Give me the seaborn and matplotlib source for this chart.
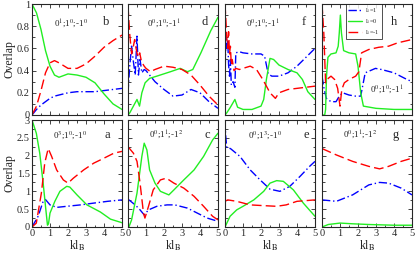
import numpy as np
import pandas as pd
import matplotlib
matplotlib.use("Agg")
import matplotlib.pyplot as plt
import seaborn as sns
from matplotlib.ticker import MultipleLocator

sns.set_style("ticks")
plt.rcParams["font.family"] = ["Liberation Serif", "DejaVu Serif"]
plt.rcParams["mathtext.fontset"] = "stix"

# ----------------------------------------------------------
# data (x = kl_B)
# ----------------------------------------------------------
# panel b
b_x = [0, 0.25, 0.5, 0.75, 1.0, 1.25, 1.5, 2.0, 2.5, 3.0, 3.5, 4.0, 4.5, 5.0]
b_green = [1.0, 0.92, 0.77, 0.58, 0.44, 0.36, 0.34, 0.37, 0.36, 0.34, 0.29, 0.19, 0.1, 0.05]
b_red = [0, 0.08, 0.22, 0.38, 0.47, 0.49, 0.47, 0.42, 0.42, 0.46, 0.53, 0.61, 0.67, 0.72]
b_blue = [0, 0.05, 0.09, 0.12, 0.15, 0.17, 0.18, 0.2, 0.21, 0.21, 0.21, 0.22, 0.23, 0.24]

# panel d
d_red_x = [0, 0.1, 0.2, 0.3, 0.37, 0.45, 0.55, 0.65, 0.75, 0.9, 1.0, 1.25, 1.5, 2.0, 2.5, 3.0, 3.5, 4.0, 4.5, 5.0]
d_red = [0.98, 0.72, 0.55, 0.62, 0.68, 0.6, 0.52, 0.56, 0.48, 0.44, 0.42, 0.39, 0.41, 0.44, 0.43, 0.41, 0.36, 0.27, 0.17, 0.09]
d_blue_x = [0, 0.1, 0.2, 0.3, 0.4, 0.5, 0.58, 0.67, 0.77, 0.9, 1.0, 1.25, 1.5, 2.0, 2.5, 3.0, 3.5, 4.0, 4.5, 5.0]
d_blue = [0.2, 0.45, 0.62, 0.48, 0.36, 0.71, 0.36, 0.5, 0.38, 0.41, 0.4, 0.35, 0.3, 0.23, 0.17, 0.18, 0.23, 0.2, 0.12, 0.06]
d_green_x = [0, 0.1, 0.2, 0.3, 0.4, 0.5, 0.64, 0.77, 0.95, 1.2, 1.6, 2.36, 2.9, 3.3, 3.6, 4.05, 4.6, 5.0]
d_green = [0, 0.02, 0.05, 0.08, 0.11, 0.14, 0.08, 0.2, 0.29, 0.33, 0.35, 0.39, 0.42, 0.39, 0.41, 0.56, 0.76, 0.88]

# panel f
f_red_x = [0, 0.05, 0.1, 0.15, 0.2, 0.25, 0.3, 0.35, 0.4, 0.5, 0.6, 0.8, 1.0, 1.4, 1.75, 2.1, 2.5, 2.8, 3.0, 3.5, 4.0, 4.5, 5.0]
f_red = [1.0, 0.85, 0.7, 0.6, 0.75, 0.55, 0.62, 0.45, 0.5, 0.4, 0.42, 0.41, 0.42, 0.44, 0.41, 0.32, 0.2, 0.15, 0.2, 0.23, 0.24, 0.25, 0.26]
f_blue_x = [0, 0.05, 0.1, 0.15, 0.2, 0.25, 0.3, 0.35, 0.45, 0.55, 0.6, 0.8, 1.0, 1.5, 2.0, 2.2, 2.4, 2.6, 3.0, 3.5, 4.0, 4.5, 5.0]
f_blue = [0.3, 0.73, 0.6, 0.68, 0.45, 0.35, 0.5, 0.27, 0.3, 0.25, 0.56, 0.57, 0.56, 0.55, 0.55, 0.53, 0.37, 0.35, 0.35, 0.38, 0.44, 0.52, 0.6]
f_green_x = [0, 0.1, 0.3, 0.55, 0.7, 1.0, 1.5, 2.0, 2.15, 2.3, 2.5, 2.7, 3.0, 3.5, 4.0, 4.3, 4.6, 5.0]
f_green = [0, 0.02, 0.07, 0.14, 0.07, 0.05, 0.05, 0.08, 0.14, 0.32, 0.51, 0.5, 0.45, 0.41, 0.38, 0.32, 0.21, 0.14]

# panel h
h_green_x = [0, 0.15, 0.2, 0.25, 0.33, 0.5, 0.78, 0.9, 0.96, 1.02, 1.08, 1.2, 1.5, 1.87, 2.0, 2.15, 2.3, 3.0, 4.0, 5.0]
h_green = [0, 0, 0.05, 0.35, 0.52, 0.55, 0.56, 0.62, 0.74, 0.9, 0.74, 0.58, 0.56, 0.55, 0.44, 0.2, 0.08, 0.06, 0.05, 0.05]
h_red_x = [0, 0.1, 0.2, 0.35, 0.5, 0.7, 0.87, 1.0, 1.1, 1.24, 1.5, 1.87, 2.05, 2.2, 2.6, 3.15, 3.7, 4.2, 5.0]
h_red = [1.0, 0.74, 0.29, 0.33, 0.35, 0.32, 0.24, 0.08, 0.23, 0.29, 0.32, 0.35, 0.39, 0.56, 0.59, 0.61, 0.62, 0.65, 0.68]
h_blue_x = [0, 0.1, 0.24, 0.5, 0.78, 0.96, 1.15, 1.5, 1.87, 2.15, 2.4, 2.97, 3.3, 4.0, 4.6, 5.0]
h_blue = [0.35, 0.25, 0.15, 0.12, 0.12, 0.17, 0.2, 0.18, 0.17, 0.17, 0.38, 0.42, 0.41, 0.38, 0.33, 0.3]

# panel a
a_green_x = [0, 0.24, 0.43, 0.62, 0.75, 0.86, 0.92, 1.0, 1.27, 1.55, 1.93, 2.1, 2.5, 3.05, 3.8, 4.36, 5.0]
a_green = [3.0, 2.63, 2.07, 1.23, 0.58, 0.05, 0.1, 0.39, 0.72, 1.0, 1.14, 1.12, 0.9, 0.62, 0.42, 0.22, 0.12]
a_red_x = [0, 0.24, 0.52, 0.71, 0.9, 1.09, 1.37, 1.74, 2.0, 2.3, 2.87, 3.43, 4.0, 4.55, 5.0]
a_red = [0, 0.11, 0.95, 1.8, 2.2, 1.98, 1.6, 1.32, 1.23, 1.37, 1.6, 1.79, 1.93, 2.07, 2.12]
a_blue_x = [0, 0.34, 0.62, 0.75, 1.0, 1.37, 1.93, 2.7, 3.43, 4.2, 5.0]
a_blue = [0, 0.3, 0.72, 0.77, 0.62, 0.55, 0.58, 0.62, 0.67, 0.72, 0.76]

# panel c
c_green_x = [0.05, 0.2, 0.5, 0.77, 0.9, 1.05, 1.2, 1.5, 1.8, 2.27, 2.55, 3.1, 3.67, 4.2, 4.7, 5.0]
c_green = [0, 0.2, 0.95, 1.98, 2.35, 2.16, 1.6, 1.23, 1.0, 0.9, 1.04, 1.32, 1.6, 1.98, 2.44, 2.63]
c_red_x = [0, 0.3, 0.5, 0.67, 0.86, 0.94, 1.14, 1.4, 1.8, 2.13, 2.55, 3.1, 3.67, 4.2, 4.7, 5.0]
c_red = [2.25, 2.07, 1.84, 1.23, 0.39, 0.25, 0.58, 1.04, 1.32, 1.37, 1.23, 1.09, 0.86, 0.58, 0.3, 0.2]
c_blue_x = [0, 0.4, 0.67, 0.9, 1.14, 1.6, 2.17, 2.6, 3.3, 3.85, 4.4, 5.0]
c_blue = [0.78, 0.62, 0.48, 0.34, 0.48, 0.58, 0.62, 0.62, 0.53, 0.39, 0.25, 0.16]

# panel e
e_blue_x = [0, 0.03, 0.1, 0.3, 0.83, 1.4, 1.95, 2.5, 3.05, 3.6, 4.17, 4.7, 5.0]
e_blue = [3.0, 2.6, 2.22, 2.2, 1.98, 1.6, 1.32, 1.06, 1.0, 1.14, 1.42, 1.7, 1.84]
e_red_x = [0, 0.15, 0.65, 1.4, 2.1, 2.87, 3.4, 4.0, 5.0]
e_red = [0.72, 0.76, 0.72, 0.62, 0.6, 0.58, 0.62, 0.72, 0.76]
e_green_x = [0, 0.28, 0.65, 1.0, 1.6, 2.15, 2.5, 2.87, 3.24, 3.8, 4.35, 5.0]
e_green = [0, 0.3, 0.48, 0.58, 0.76, 1.0, 1.23, 1.3, 1.28, 1.04, 0.67, 0.3]

# panel g
g_x = [0, 0.8, 1.7, 2.6, 3.2, 3.7, 4.4, 5.0]
g_red = [2.2, 2.02, 1.84, 1.7, 1.63, 1.7, 1.84, 1.93]
g_blue = [0.76, 0.72, 0.9, 1.18, 1.25, 1.23, 1.09, 0.9]
g_green_x = [0, 0.35, 1.0, 1.7, 2.6, 4.0, 5.0]
g_green = [0, 0.07, 0.11, 0.09, 0.07, 0.05, 0.05]

panels = [
    # (row, col, letter, state label, label pos, letter pos, blue, green, red)
    (0, 0, "b", r"0$^1$;1$^0$;-1$^0$", (0.43, 0.82), (0.82, 0.84),
     (b_x, b_blue), (b_x, b_green), (b_x, b_red)),
    (0, 1, "d", r"0$^0$;1$^0$;-1$^1$", (0.4, 0.82), (0.85, 0.84),
     (d_blue_x, d_blue), (d_green_x, d_green), (d_red_x, d_red)),
    (0, 2, "f", r"0$^0$;1$^0$;-1$^1$", (0.42, 0.82), (0.88, 0.84),
     (f_blue_x, f_blue), (f_green_x, f_green), (f_red_x, f_red)),
    (0, 3, "h", r"0$^0$;1$^0$;-1$^1$", (0.72, 0.23), (0.8, 0.84),
     (h_blue_x, h_blue), (h_green_x, h_green), (h_red_x, h_red)),
    (1, 0, "a", r"0$^3$;1$^0$;-1$^0$", (0.42, 0.86), (0.84, 0.86),
     (a_blue_x, a_blue), (a_green_x, a_green), (a_red_x, a_red)),
    (1, 1, "c", r"0$^0$;1$^1$;-1$^2$", (0.42, 0.86), (0.88, 0.86),
     (c_blue_x, c_blue), (c_green_x, c_green), (c_red_x, c_red)),
    (1, 2, "e", r"0$^0$;1$^3$;-1$^0$", (0.44, 0.86), (0.9, 0.86),
     (e_blue_x, e_blue), (e_green_x, e_green), (e_red_x, e_red)),
    (1, 3, "g", r"0$^0$;1$^1$;-1$^2$", (0.42, 0.86), (0.82, 0.86),
     (g_x, g_blue), (g_green_x, g_green), (g_x, g_red)),
]

W, H = 415, 257
fig = plt.figure(figsize=(W / 100, H / 100), dpi=100)
lefts = [32, 128, 225, 322]
rows = [(4, 115), (120, 227)]  # top, bottom in pixels

for row, col, letter, label, lpos, tpos, blue, green, red in panels:
    top, bot = rows[row]
    ax = fig.add_axes([lefts[col] / W, (H - bot) / H, 90 / W, (bot - top) / H])
    sns.lineplot(x=blue[0], y=blue[1], ax=ax, color="#0000ff", lw=1.0,
                 linestyle=(0, (6, 2, 1, 2)), label=r"l$_1$=1")
    sns.lineplot(x=green[0], y=green[1], ax=ax, color="#22ee22", lw=1.0,
                 linestyle="-", label=r"l$_1$=0")
    sns.lineplot(x=red[0], y=red[1], ax=ax, color="#ff0000", lw=1.0,
                 linestyle=(0, (7, 3)), label=r"l$_1$=-1")
    ax.set_xlim(0, 5)
    ax.xaxis.set_major_locator(MultipleLocator(1))
    ax.xaxis.set_minor_locator(MultipleLocator(0.5))
    if row == 0:
        ax.set_ylim(0, 1)
        ax.yaxis.set_minor_locator(MultipleLocator(0.1))
        ax.set_yticks([0, 0.2, 0.4, 0.6, 0.8, 1.0], ["0", "0.2", "0.4", "0.6", "0.8", "1"])
        ax.set_xticklabels([])
    else:
        ax.set_ylim(0, 3)
        ax.yaxis.set_minor_locator(MultipleLocator(0.25))
        ax.set_yticks([0, 0.5, 1, 1.5, 2, 2.5, 3], ["0", "0.5", "1", "1.5", "2", "2.5", "3"])
        ax.set_xticks([0, 1, 2, 3, 4, 5], ["0", "1", "2", "3", "4", "5"])
        ax.set_xlabel(r"kl$_\mathrm{B}$", fontsize=8.5, labelpad=0)
    if col == 0:
        ax.set_ylabel("Overlap", fontsize=8.5, labelpad=1)
    else:
        ax.set_yticklabels([])
        ax.set_ylabel("")
    ax.tick_params(which="both", direction="in", top=True, right=True,
                   labelsize=7.5, pad=1.5, width=0.6)
    ax.tick_params(which="major", length=3)
    ax.tick_params(which="minor", length=1.8)
    for s in ax.spines.values():
        s.set_linewidth(0.8)
    ax.text(lpos[0], lpos[1], label, transform=ax.transAxes, fontsize=6.5,
            ha="center", va="center")
    ax.text(tpos[0], tpos[1], letter, transform=ax.transAxes, fontsize=9,
            ha="center", va="center")
    if letter == "h":
        ax.legend(loc="upper left", bbox_to_anchor=(0.27, 1.0), fontsize=4.5,
                  frameon=True, fancybox=False, edgecolor="black",
                  handlelength=2.2, borderpad=0.3, labelspacing=0.35,
                  handletextpad=0.5, borderaxespad=0.0).get_frame().set_linewidth(0.6)
    else:
        ax.get_legend().remove()

fig.savefig("out.png", dpi=100)
